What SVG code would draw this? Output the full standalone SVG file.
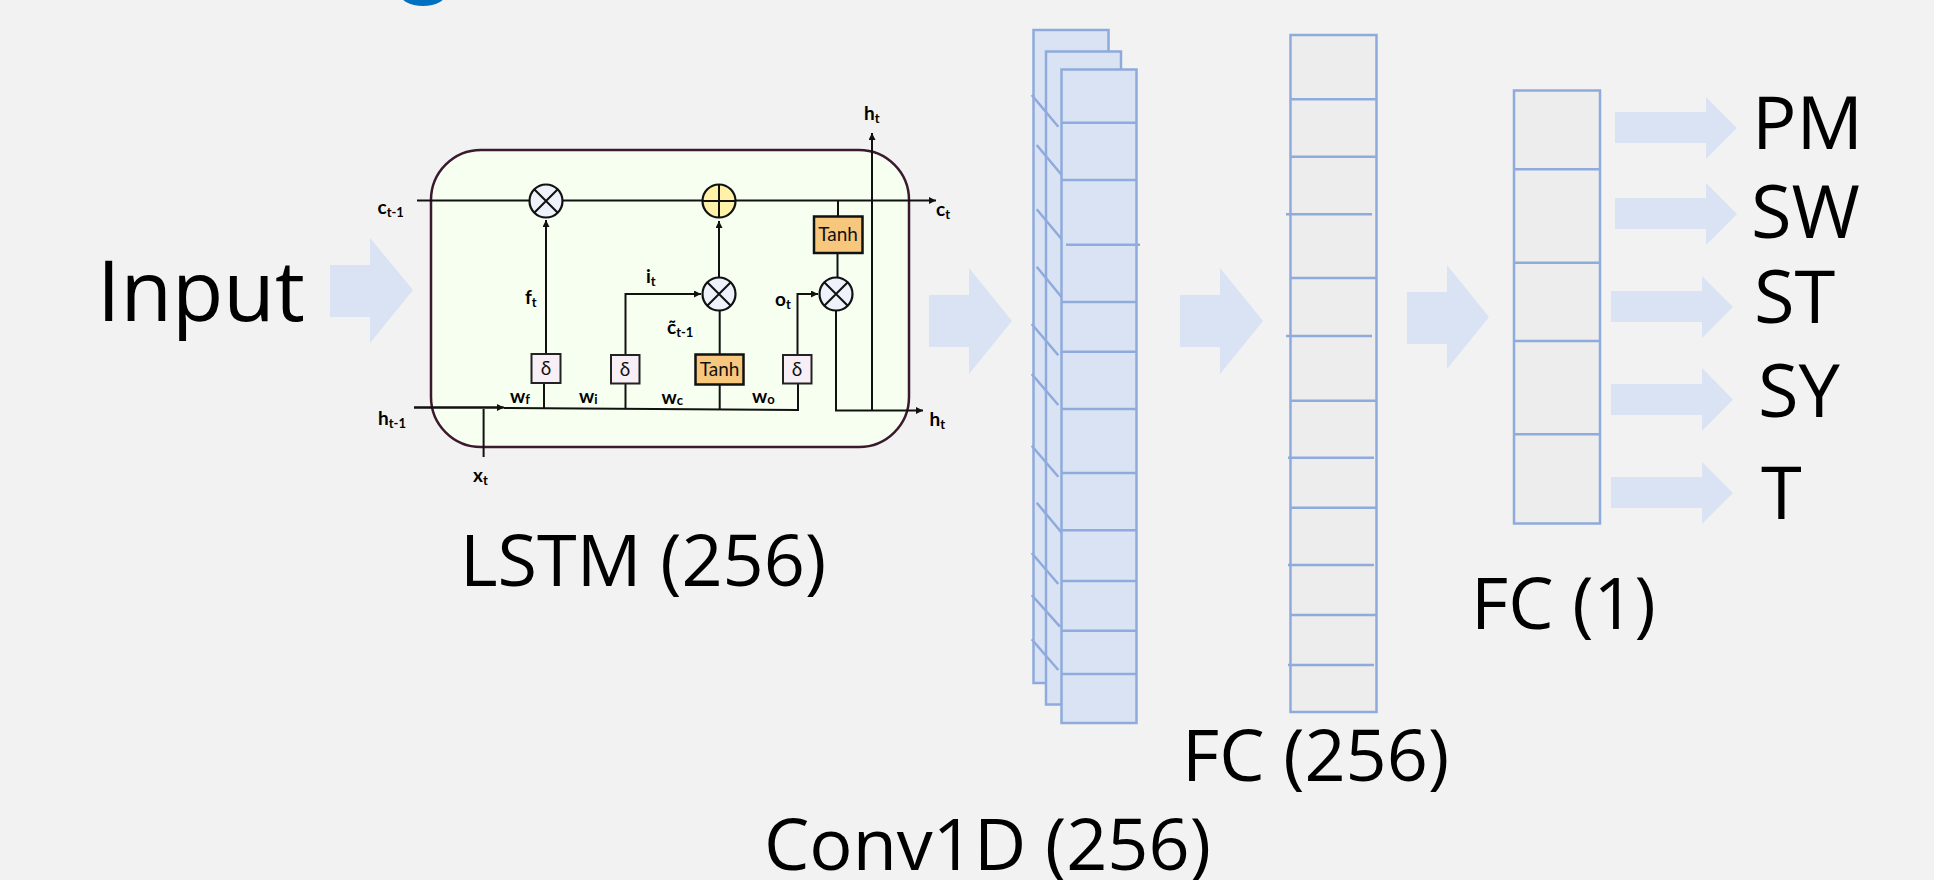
<svg xmlns="http://www.w3.org/2000/svg" width="1934" height="880" viewBox="0 0 1934 880">
<style>
.big{font-family:"Open Sans","Noto Sans",sans-serif;fill:#000}
.s{font-family:Lato,"Liberation Sans",sans-serif;font-weight:700;font-size:19px;fill:#000}
.sub{font-size:13px}
.t{font-family:Lato,"Liberation Sans",sans-serif;font-size:19px;fill:#111;text-anchor:middle}
.arr{fill:#dae3f3}
.b{fill:#dae3f3;stroke:#8faadc;stroke-width:2.5}
.f{fill:#ededed;stroke:#8faadc;stroke-width:2.5}
.bl{stroke:#8faadc;stroke-width:2.5;fill:none}
.l{stroke:#111;stroke-width:2;fill:none}
.la{stroke:#111;stroke-width:2;fill:none;marker-end:url(#ah)}
.op{fill:#edf2fb;stroke:#111;stroke-width:2.2}
.x{stroke:#111;stroke-width:2;fill:none}
.tanh{fill:#f8c77e;stroke:#111;stroke-width:2.5}
.d{fill:#f8eef5;stroke:#222;stroke-width:2}
</style>
<defs>
<marker id="ah" markerUnits="userSpaceOnUse" markerWidth="8" markerHeight="8" refX="7" refY="3.5" orient="auto"><path d="M0 0L7 3.5L0 7Z" fill="#111"/></marker>
</defs>
<rect width="1934" height="880" fill="#f2f2f2"/>
<ellipse cx="423" cy="-8" rx="24" ry="14" fill="#0070c0"/>

<g id="arrows">
<path class="arr" d="M330 265H370V238L413 290L370 343V317H330Z"/>
<path class="arr" d="M929 295H969V268L1012 321L969 374V347H929Z"/>
<path class="arr" d="M1180 295H1220V268L1263 321L1220 374V347H1180Z"/>
<path class="arr" d="M1407 292H1447V265L1489 317L1447 369V344H1407Z"/>
<path class="arr" d="M1615 112H1706V97L1737 128L1706 159V143H1615Z"/>
<path class="arr" d="M1615 198H1706V183L1737 214L1706 245V229H1615Z"/>
<path class="arr" d="M1611 291H1702V276L1733 307L1702 338V322H1611Z"/>
<path class="arr" d="M1611 384H1702V368L1733 399.500L1702 431V415H1611Z"/>
<path class="arr" d="M1611 477H1702V462L1733 493L1702 524V508H1611Z"/>
</g>

<g id="lstm-cell">
<rect x="431" y="150" width="478" height="297" rx="50" ry="50" fill="#f6fff0" stroke="#3b1a2e" stroke-width="2.500"/>
</g>

<g id="connectors">
<path class="la" d="M417 200.500H936"/>
<path class="l" d="M414 407.500H503"/>
<path class="la" d="M414 407.500H504"/>
<path class="l" d="M504 408L798 410V383"/>
<path class="l" d="M483.600 409V457"/>
<path class="la" d="M546 353V220"/>
<path class="l" d="M544 383V408"/>
<path class="la" d="M625.500 354V294H701"/>
<path class="l" d="M625.500 383V409"/>
<path class="l" d="M719.700 310V354"/>
<path class="la" d="M719 277V221"/>
<path class="l" d="M719.700 384V409"/>
<path class="la" d="M797.500 354V294H818"/>
<path class="l" d="M837.500 277V253"/>
<path class="l" d="M838 216V200"/>
<path class="la" d="M836 311V410.500H923"/>
<path class="la" d="M872 410V133"/>
</g>

<g id="op-mult-1"><circle class="op" cx="546" cy="201" r="16.500"/><path class="x" d="M534.500 189.500L557.500 212.500M557.500 189.500L534.500 212.500"/></g>
<g id="op-add"><circle cx="719" cy="201" r="16.500" fill="#fff2a8" stroke="#111" stroke-width="2.200"/><path class="x" d="M702.500 201H735.500M719 184.500V217.500"/></g>
<g id="op-mult-2"><circle class="op" cx="719" cy="294" r="16.500"/><path class="x" d="M707.500 282.500L730.500 305.500M730.500 282.500L707.500 305.500"/></g>
<g id="op-mult-3"><circle class="op" cx="836" cy="294" r="16.500"/><path class="x" d="M824.500 282.500L847.500 305.500M847.500 282.500L824.500 305.500"/></g>

<g id="delta-f"><rect class="d" x="531.500" y="354" width="29" height="29"/><text class="t" x="546" y="375">δ</text></g>
<g id="delta-i"><rect class="d" x="611" y="355" width="28.500" height="28.500"/><text class="t" x="625" y="376">δ</text></g>
<g id="delta-o"><rect class="d" x="783" y="355" width="28.500" height="28.500"/><text class="t" x="797" y="376">δ</text></g>
<g id="tanh-c"><rect class="tanh" x="695.500" y="354.500" width="48" height="30"/><text class="t" x="719.500" y="376">Tanh</text></g>
<g id="tanh-h"><rect class="tanh" x="814" y="216.500" width="48.500" height="36.500"/><text class="t" x="838" y="241">Tanh</text></g>

<g id="lstm-labels">
<text class="s" x="377.500" y="214">c<tspan class="sub" dy="3">t-1</tspan></text>
<text class="s" x="936" y="216">c<tspan class="sub" dy="3">t</tspan></text>
<text class="s" x="864" y="120">h<tspan class="sub" dy="3">t</tspan></text>
<text class="s" x="525" y="304">f<tspan class="sub" dy="3">t</tspan></text>
<text class="s" x="646" y="283">i<tspan class="sub" dy="3">t</tspan></text>
<text class="s" x="667" y="334">c̃<tspan class="sub" dy="3">t-1</tspan></text>
<text class="s" x="775" y="306">o<tspan class="sub" dy="3">t</tspan></text>
<text class="s" x="510" y="403">w<tspan class="sub" dy="1">f</tspan></text>
<text class="s" x="579" y="403">w<tspan class="sub" dy="1">i</tspan></text>
<text class="s" x="661.500" y="404">w<tspan class="sub" dy="1">c</tspan></text>
<text class="s" x="752" y="403">w<tspan class="sub" dy="1">o</tspan></text>
<text class="s" x="378" y="425">h<tspan class="sub" dy="3">t-1</tspan></text>
<text class="s" x="929.500" y="426">h<tspan class="sub" dy="3">t</tspan></text>
<text class="s" x="473" y="482">x<tspan class="sub" dy="3">t</tspan></text>
</g>

<g id="conv1d">
<rect class="b" x="1033.500" y="30" width="75" height="653"/>
<rect class="b" x="1046" y="51.500" width="75" height="653"/>
<path class="bl" d="M1031.700 95L1058.300 126.700M1036.700 145L1061.700 175M1036.700 209.300L1061.700 239.300M1036.700 266.700L1061.700 297.300M1031.700 324L1058.300 355.300M1031.700 374L1058.300 405M1031.700 445.700L1058.300 476.700M1036.700 502.700L1061.700 532.700M1031.700 553L1058.300 584M1031.700 595L1060 626.700M1031.700 639.300L1058.300 670"/>
<rect class="b" x="1061.500" y="69.500" width="75" height="653.500"/>
<path class="bl" d="M1061.500 122.700H1136.500M1061.500 180H1136.500M1066 244.700H1140M1061.500 302H1136.500M1061.500 351.700H1136.500M1061.500 409H1136.500M1061.500 473H1136.500M1061.500 530.300H1136.500M1061.500 581H1136.500M1061.500 630.700H1136.500M1061.500 674H1136.500"/>
</g>

<g id="fc-256">
<rect class="f" x="1290.500" y="35" width="86" height="677"/>
<path class="bl" d="M1290.500 99.300H1376.500M1290.500 156.700H1376.500M1286 214.300H1372M1290.500 278H1376.500M1286 336H1372M1290.500 400.700H1376.500M1288 457.700H1374M1290.500 507.700H1376.500M1288 565H1374M1290.500 615H1376.500M1288 665H1374"/>
</g>

<g id="fc-1">
<rect class="f" x="1514" y="90.500" width="86" height="433"/>
<path class="bl" d="M1514 169.300H1600M1514 262.700H1600M1514 341H1600M1514 434.300H1600"/>
</g>

<g id="labels">
<text class="big" font-size="84" x="97" y="321">Input</text>
<text class="big" font-size="72" x="460" y="586">LSTM (256)</text>
<text class="big" font-size="72" x="764" y="870">Conv1D (256)</text>
<text class="big" font-size="72" x="1182" y="781">FC (256)</text>
<text class="big" font-size="72" x="1471" y="629">FC (1)</text>
<text class="big" font-size="74" x="1752" y="149">PM</text>
<text class="big" font-size="74" x="1751" y="238">SW</text>
<text class="big" font-size="74" x="1754" y="323">ST</text>
<text class="big" font-size="74" x="1758" y="417">SY</text>
<text class="big" font-size="74" x="1761" y="519">T</text>
</g>
</svg>
